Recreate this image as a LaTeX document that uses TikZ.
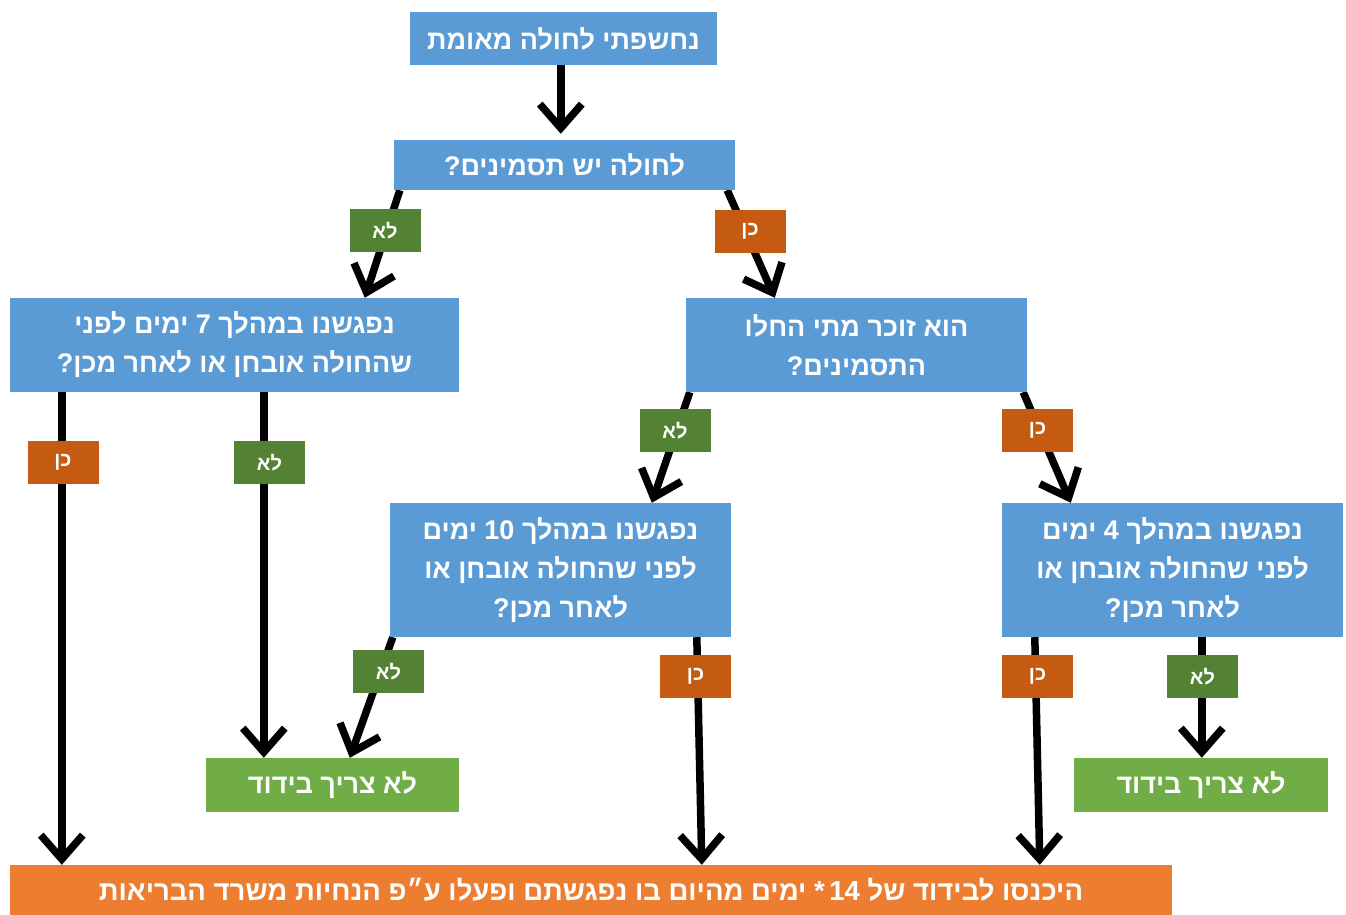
\documentclass[tikz,border=0pt]{standalone}
\usepackage{fontspec}
\newfontfamily\hebfont[Script=Hebrew]{Liberation Sans}
\TeXXeTstate=1
\usetikzlibrary{arrows.meta,calc,backgrounds}
\definecolor{boxblue}{HTML}{5B9BD5}
\definecolor{boxgreen}{HTML}{70AD47}
\definecolor{boxorange}{HTML}{ED7D31}
\definecolor{lblgreen}{HTML}{548235}
\definecolor{lblorange}{HTML}{C55A11}
\tikzset{
  basebox/.style={text=white, align=center, inner sep=0pt,
    font=\hebfont\bfseries\fontsize{27}{39}\selectfont},
  qbox/.style={basebox, fill=boxblue},
  gbox/.style={basebox, fill=boxgreen},
  obox/.style={basebox, fill=boxorange, font=\hebfont\bfseries\fontsize{27.5}{30}\selectfont},
  yeslbl/.style={basebox, fill=lblorange, minimum width=71pt, minimum height=43pt,
    font=\hebfont\bfseries\fontsize{20}{22}\selectfont},
  nolbl/.style={yeslbl, fill=lblgreen},
  arr/.style={line width=7.5pt, -{Straight Barb[length=24pt,width=42pt]}}
}
\begin{document}
\begin{tikzpicture}[x=1pt,y=-1pt]
\useasboundingbox (0,0) rectangle (1346,915);
% boxes
\node[qbox, minimum width=307pt, minimum height=53pt] (b1) at (563.5,38.5) {\beginR נחשפתי לחולה מאומת\endR};
\node[qbox, minimum width=341pt, minimum height=50pt] (b2) at (564.5,165) {\beginR לחולה יש תסמינים?\endR};
\node[qbox, minimum width=449pt, minimum height=94pt] (b3) at (234.5,345) {\beginR נפגשנו במהלך \beginL 7\endL{} ימים לפני\endR\\\beginR שהחולה אובחן או לאחר מכן?\endR};
\node[qbox, minimum width=341pt, minimum height=94pt] (b4) at (856.5,345) {\beginR הוא זוכר מתי החלו\endR\\\beginR התסמינים?\endR};
\node[qbox, minimum width=341pt, minimum height=134pt] (b5) at (560.5,570) {\beginR נפגשנו במהלך \beginL 10\endL{} ימים\endR\\\beginR לפני שהחולה אובחן או\endR\\\beginR לאחר מכן?\endR};
\node[qbox, minimum width=341pt, minimum height=134pt] (b6) at (1172.5,570) {\beginR נפגשנו במהלך \beginL 4\endL{} ימים\endR\\\beginR לפני שהחולה אובחן או\endR\\\beginR לאחר מכן?\endR};
\node[gbox, minimum width=253pt, minimum height=54pt] (g1) at (332.5,785) {\beginR לא צריך בידוד\endR};
\node[gbox, minimum width=254pt, minimum height=54pt] (g2) at (1201,785) {\beginR לא צריך בידוד\endR};
\node[obox, minimum width=1162pt, minimum height=50pt] (bot) at (591,890) {\beginR היכנסו לבידוד של \beginL 14\endL\,* ימים מהיום בו נפגשתם ופעלו ע״פ הנחיות משרד הבריאות\endR};
% labels
\node[nolbl] (l1) at (385,230.5) {\beginR לא\endR};
\node[yeslbl] (l2) at (750,231) {\beginR כן\endR};
\node[yeslbl] (l3) at (63,462.5) {\beginR כן\endR};
\node[nolbl] (l4) at (269.5,462.5) {\beginR לא\endR};
\node[nolbl] (l5) at (675,430.5) {\beginR לא\endR};
\node[yeslbl] (l6) at (1037.5,430.5) {\beginR כן\endR};
\node[nolbl] (l7) at (388.5,671.5) {\beginR לא\endR};
\node[yeslbl] (l8) at (695.5,676.5) {\beginR כן\endR};
\node[yeslbl] (l9) at (1037.5,676.5) {\beginR כן\endR};
\node[nolbl] (l10) at (1202.5,676.5) {\beginR לא\endR};
% connectors
\begin{scope}[on background layer]
\fill[white] (0,0) rectangle (1346,915);
\draw[arr, shorten >=6pt] ($(b1.south west)+(151,0)$) -- ($(b2.north west)+(167,0)$);
\draw[arr] ($(b2.south west)+(6,0)$) -- ($(b3.north west)+(355,0)$);
\draw[arr] ($(b2.south east)+(-8,0)$) -- ($(b4.north west)+(89,0)$);
\draw[arr] ($(b3.south west)+(52,0)$) -- ($(bot.north west)+(52,0)$);
\draw[arr] ($(b3.south west)+(254,0)$) -- ($(g1.north west)+(58,0)$);
\draw[arr] ($(b4.south west)+(4,0)$) -- ($(b5.north west)+(262,0)$);
\draw[arr] ($(b4.south east)+(-4,0)$) -- ($(b6.north west)+(69,0)$);
\draw[arr] ($(b5.south west)+(3,0)$) -- ($(g1.north west)+(144,0)$);
\draw[arr] ($(b5.south west)+(307,0)$) -- ($(bot.north west)+(692,0)$);
\draw[arr] ($(b6.south west)+(33,0)$) -- ($(bot.north west)+(1030,0)$);
\draw[arr] ($(b6.south west)+(200,0)$) -- ($(g2.north west)+(128,0)$);
\end{scope}
\end{tikzpicture}
\end{document}
